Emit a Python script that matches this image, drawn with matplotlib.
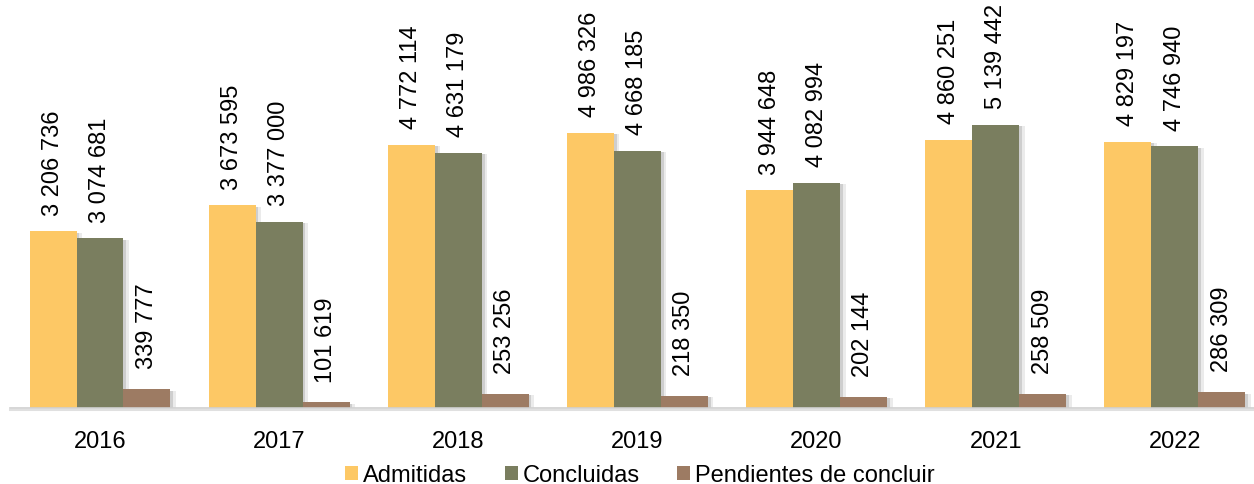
import numpy as np
import matplotlib
matplotlib.use("Agg")
import matplotlib.pyplot as plt
import matplotlib.patheffects as pe
from matplotlib.patches import Patch

# data
years = ["2016", "2017", "2018", "2019", "2020", "2021", "2022"]
admitidas = [3206736, 3673595, 4772114, 4986326, 3944648, 4860251, 4829197]
concluidas = [3074681, 3377000, 4631179, 4668185, 4082994, 5139442, 4746940]
pendientes = [339777, 101619, 253256, 218350, 202144, 258509, 286309]

series_names = ["Admitidas", "Concluidas", "Pendientes de concluir"]
series_colors = ["#FDC865", "#7A7E5F", "#9D7B63"]


def fmt(v):
    return f"{v:,}".replace(",", " ")


plt.rcParams['font.family'] = ['Liberation Sans', 'DejaVu Sans']

fig = plt.figure(figsize=(12.54, 4.85), dpi=100)
# axes placed so that the plot area lines up with the reference
ax = fig.add_axes([10.4 / 1254, 76 / 485, 1254 / 1254, 386 / 485])

x = np.arange(len(years))
w = 0.262
# soft shadow on the right side of the bars
shadow = [pe.SimplePatchShadow(offset=(4, -1), alpha=0.08, shadow_rgbFace="black"),
          pe.SimplePatchShadow(offset=(2, -1), alpha=0.12, shadow_rgbFace="black"),
          pe.Normal()]

label_pad = [12, 12, 15]  # pendientes labels sit a little higher
for i, (vals, col) in enumerate(zip([admitidas, concluidas, pendientes], series_colors)):
    pos = x + (i - 1) * w
    bars = ax.bar(pos, vals, width=w, color=col, zorder=2)
    for b in bars:
        b.set_path_effects(shadow)
    for p, v in zip(pos, vals):
        ax.annotate(fmt(v), (p, v), xytext=(0, label_pad[i]), textcoords="offset points",
                    rotation=90, ha="center", va="bottom", fontsize=17)

ax.set_xlim(-0.5, len(years) - 0.5)
ax.set_ylim(0, 7000000)
ax.set_xticks(x)
ax.set_xticklabels(years, fontsize=17)
ax.tick_params(axis="x", length=0, pad=16)
ax.set_yticks([])
for s in ["top", "right", "left"]:
    ax.spines[s].set_visible(False)
ax.spines["bottom"].set_color("#D0D0D0")
ax.spines["bottom"].set_linewidth(1.2)
ax.spines["bottom"].set_path_effects(
    [pe.SimpleLineShadow(offset=(0, -1.5), alpha=0.12, linewidth=1.5), pe.Normal()])

handles = [Patch(facecolor=c, label=n) for c, n in zip(series_colors, series_names)]
fig.legend(handles=handles, loc="center", bbox_to_anchor=(640 / 1254, 1 - 476 / 485),
           ncol=3, frameon=False, fontsize=17, handlelength=0.55, handleheight=0.55,
           handletextpad=0.2, columnspacing=1.6)

fig.savefig("out.png", dpi=100)
